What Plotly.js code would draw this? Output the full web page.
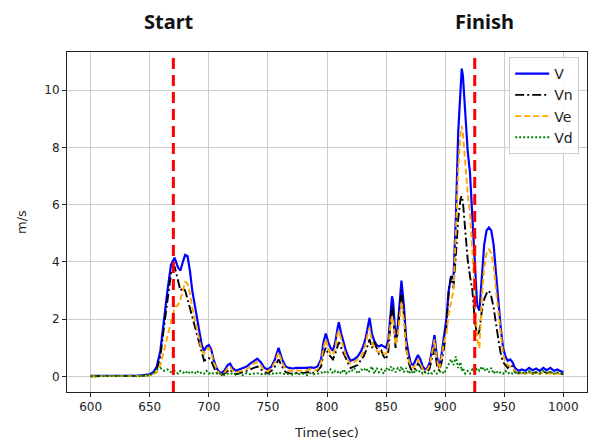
<!DOCTYPE html>
<html>
<head>
<meta charset="utf-8">
<script src="https://cdn.plot.ly/plotly-3.0.1.min.js"></script>
<style>html,body{margin:0;padding:0;background:#fff;}#chart{width:590px;height:445px;}</style>
</head>
<body>
<div id="chart"></div>
<script>
const time = [600,610,620,630,640,645,650,653,656,659,662,665,668,671,674,676,678,680,682,684,686,688,690,692,694,696,698,700,702,704,706,708,710,713,716,718,720,723,726,729,732,735,738,741,744,747,750,753,756,759,762,765,768,771,774,777,780,783,786,789,792,795,797,799,801,803,805,807,809,810,812,814,816,818,820,823,826,829,831,833,835,836,838,840,842,844,846,848,850,852,854,855,856,858,860,862,863,865,867,869,871,873,875,877,879,881,883,885,887,889,891,893,895,897,899,901,903,905,907,909,911,913,914,915,917,919,921,923,925,927,929,931,933,935,937,939,941,943,945,947,949,951,953,955,957,959,962,965,968,971,974,977,980,983,986,989,992,995,998,1000];
const V  = [0.02,0.02,0.02,0.03,0.03,0.05,0.08,0.15,0.35,0.9,2.0,3.0,3.9,4.15,3.8,3.7,4.0,4.25,4.2,3.7,3.0,2.5,2.1,1.6,1.1,0.9,1.05,1.1,0.95,0.6,0.35,0.2,0.12,0.2,0.4,0.45,0.3,0.2,0.25,0.3,0.35,0.45,0.55,0.62,0.5,0.3,0.25,0.35,0.6,1.0,0.6,0.35,0.3,0.28,0.3,0.3,0.28,0.3,0.32,0.3,0.35,0.6,1.2,1.5,1.2,1.0,0.9,1.2,1.7,1.9,1.5,1.15,0.9,0.7,0.55,0.6,0.7,0.9,1.1,1.4,1.9,2.05,1.5,1.25,1.1,1.05,1.1,1.05,1.0,1.3,2.4,2.8,2.6,1.3,1.8,3.0,3.35,2.5,1.3,0.8,0.45,0.4,0.55,0.75,0.6,0.35,0.25,0.3,0.5,1.0,1.45,0.7,0.3,0.8,1.35,2.0,3.0,3.5,3.4,5.5,8.5,10.4,10.75,10.5,9.0,7.9,7.1,5.7,4.0,2.5,2.3,3.5,4.6,5.1,5.2,5.1,4.6,3.6,2.6,1.7,1.0,0.7,0.55,0.6,0.5,0.3,0.2,0.25,0.2,0.3,0.22,0.28,0.2,0.3,0.22,0.3,0.2,0.25,0.18,0.15];
const Vn = [0.01,0.01,0.01,0.02,0.02,0.03,0.05,0.1,0.25,0.7,1.7,2.7,3.6,3.85,3.3,3.0,3.1,3.0,2.7,2.4,2.1,1.8,1.5,1.2,0.8,0.55,0.6,0.65,0.55,0.35,0.15,0.1,0.05,0.1,0.2,0.25,0.15,0.08,0.12,0.15,0.2,0.25,0.3,0.35,0.25,0.15,0.12,0.2,0.35,0.6,0.35,0.15,0.12,0.1,0.12,0.15,0.12,0.15,0.15,0.12,0.2,0.35,0.8,1.0,0.8,0.7,0.6,0.8,1.1,1.2,1.0,0.8,0.6,0.45,0.3,0.35,0.4,0.6,0.7,0.9,1.2,1.3,1.0,1.2,1.0,0.8,0.9,0.7,0.6,0.9,2.0,2.5,2.2,1.0,1.6,2.7,3.0,2.2,1.0,0.5,0.25,0.2,0.3,0.45,0.35,0.2,0.15,0.15,0.3,0.7,1.0,0.4,0.2,0.5,1.0,1.7,3.0,3.5,3.1,4.2,5.5,6.2,6.3,6.1,5.2,4.1,3.5,3.0,2.0,1.4,1.6,2.3,2.7,2.9,3.0,2.8,2.4,1.8,1.3,0.8,0.5,0.4,0.3,0.4,0.35,0.15,0.12,0.15,0.1,0.15,0.12,0.15,0.1,0.18,0.12,0.15,0.1,0.12,0.1,0.08];
const Ve = [0.01,0.01,0.01,0.01,0.02,0.02,0.04,0.08,0.15,0.4,0.9,1.4,2.0,2.4,2.5,2.7,3.0,3.3,3.25,2.9,2.4,2.0,1.7,1.3,0.9,0.8,0.95,1.0,0.85,0.5,0.3,0.15,0.08,0.12,0.3,0.35,0.2,0.15,0.18,0.22,0.25,0.35,0.45,0.5,0.4,0.2,0.18,0.3,0.5,0.85,0.5,0.25,0.2,0.2,0.22,0.2,0.2,0.22,0.25,0.2,0.25,0.5,1.0,1.3,1.0,0.8,0.75,1.0,1.5,1.6,1.3,1.0,0.7,0.55,0.45,0.5,0.6,0.7,0.9,1.2,1.6,1.7,1.2,1.0,0.9,0.85,0.9,0.8,0.8,1.1,1.9,2.1,2.0,1.1,1.5,2.4,2.6,2.0,1.0,0.6,0.35,0.3,0.45,0.6,0.45,0.25,0.2,0.25,0.4,0.85,1.3,0.6,0.25,0.7,1.2,1.5,2.2,2.6,3.0,5.0,7.2,8.5,8.75,8.5,7.3,6.4,5.7,4.5,3.0,1.3,1.0,2.8,3.8,4.3,4.45,4.3,3.9,3.0,2.2,1.4,0.8,0.5,0.4,0.35,0.3,0.2,0.1,0.12,0.1,0.15,0.1,0.12,0.1,0.15,0.1,0.12,0.08,0.1,0.08,0.08];
const Vd = [0.01,0.02,0.01,0.02,0.01,0.03,0.05,0.1,0.25,0.3,0.2,0.25,0.15,0.2,0.1,0.2,0.15,0.1,0.2,0.1,0.15,0.1,0.2,0.1,0.15,0.1,0.2,0.1,0.15,0.1,0.12,0.08,0.1,0.05,0.1,0.08,0.12,0.06,0.1,0.05,0.12,0.08,0.1,0.12,0.08,0.1,0.06,0.12,0.08,0.15,0.1,0.08,0.1,0.06,0.12,0.08,0.1,0.05,0.12,0.08,0.1,0.15,0.1,0.2,0.15,0.25,0.1,0.2,0.15,0.2,0.1,0.25,0.1,0.2,0.15,0.3,0.1,0.25,0.2,0.3,0.15,0.2,0.35,0.1,0.3,0.15,0.25,0.1,0.3,0.2,0.35,0.2,0.3,0.15,0.3,0.2,0.35,0.15,0.3,0.1,0.2,0.1,0.25,0.15,0.2,0.1,0.15,0.08,0.15,0.1,0.2,0.1,0.15,0.2,0.1,0.25,0.4,0.6,0.4,0.7,0.3,0.5,0.2,0.3,0.1,0.2,0.1,0.25,0.15,0.3,0.2,0.35,0.2,0.3,0.15,0.3,0.1,0.2,0.1,0.15,0.1,0.2,0.1,0.15,0.1,0.15,0.1,0.15,0.1,0.2,0.1,0.15,0.1,0.2,0.12,0.15,0.1,0.15,0.1,0.1];
const startTime = 670;
const finishTime = 925;
const xTicks = [600,650,700,750,800,850,900,950,1000];
const yTicks = [0,2,4,6,8,10];

const traces = [
  {x: time, y: V,  name: 'V',  mode: 'lines', line: {color: '#0000ff', width: 2.2}},
  {x: time, y: Vn, name: 'Vn', mode: 'lines', line: {color: '#000000', width: 1.9, dash: '9px,3px,2px,3px'}},
  {x: time, y: Ve, name: 'Ve', mode: 'lines', line: {color: '#ffa500', width: 1.9, dash: '6px,3px'}},
  {x: time, y: Vd, name: 'Vd', mode: 'lines', line: {color: '#008000', width: 1.9, dash: '2px,2px'}}
];

const axisCommon = {
  showgrid: true, gridcolor: '#cccccc', gridwidth: 1,
  showline: true, mirror: true, linecolor: '#222222', linewidth: 1,
  ticks: 'outside', ticklen: 4, tickcolor: '#222222',
  zeroline: false,
  tickfont: {family: 'DejaVu Sans', size: 12, color: '#222222'}
};

const layout = {
  width: 590, height: 445,
  margin: {l: 67, r: 3, t: 52, b: 53},
  paper_bgcolor: '#ffffff', plot_bgcolor: '#ffffff',
  showlegend: true,
  legend: {x: 0.985, xanchor: 'right', y: 0.985, yanchor: 'top',
           bgcolor: 'rgba(255,255,255,0.85)', bordercolor: '#cccccc', borderwidth: 1,
           font: {family: 'DejaVu Sans', size: 14, color: '#222'}, itemwidth: 34},
  xaxis: Object.assign({}, axisCommon, {
    range: [580, 1020], tickvals: xTicks,
    title: {text: 'Time(sec)', font: {family: 'DejaVu Sans', size: 13, color: '#222'}, standoff: 14}
  }),
  yaxis: Object.assign({}, axisCommon, {
    range: [-0.54, 11.33], tickvals: yTicks,
    title: {text: 'm/s', font: {family: 'DejaVu Sans', size: 13, color: '#222'}, standoff: 14}
  }),
  shapes: [
    {type: 'line', xref: 'x', yref: 'paper', x0: startTime, x1: startTime, y0: 0, y1: 1,
     line: {color: '#ff0000', width: 3, dash: '11px,6px'}},
    {type: 'line', xref: 'x', yref: 'paper', x0: finishTime, x1: finishTime, y0: 0, y1: 1,
     line: {color: '#ff0000', width: 3, dash: '11px,6px'}}
  ],
  annotations: [
    {text: '<b>Start</b>', xref: 'x', yref: 'paper', x: startTime - 3.5, y: 1, yshift: 46, showarrow: false,
     font: {family: 'Noto Sans', size: 20, color: '#111'}},
    {text: '<b>Finish</b>', xref: 'x', yref: 'paper', x: finishTime + 8, y: 1, yshift: 46, showarrow: false,
     font: {family: 'Noto Sans', size: 20, color: '#111'}}
  ]
};

Plotly.newPlot('chart', traces, layout, {displayModeBar: false, staticPlot: true});
</script>
</body>
</html>
